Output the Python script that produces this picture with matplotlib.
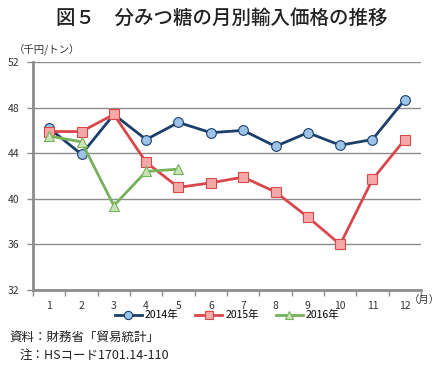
import matplotlib
matplotlib.use("Agg")
import matplotlib.pyplot as plt
import numpy as np

plt.rcParams['font.family'] = ['Noto Sans CJK JP', 'DejaVu Sans']

months = ["1", "2", "3", "4", "5", "6", "7", "8", "9", "10", "11", "12"]
y2014 = [46.2, 43.9, 47.4, 45.2, 46.7, 45.8, 46.0, 44.6, 45.8, 44.7, 45.2, 48.7]
y2015 = [45.9, 45.9, 47.4, 43.2, 41.0, 41.4, 41.9, 40.6, 38.4, 36.0, 41.7, 45.2]
y2016 = [45.5, 45.0, 39.4, 42.4, 42.6]
yticks = [32, 36, 40, 44, 48, 52]
series_labels = ["2014年", "2015年", "2016年"]

fig = plt.figure(figsize=(4.41, 3.68), dpi=100)
ax = fig.add_axes([33/441, 78/368, 388/441, 228/368])

x = np.arange(len(months))
ax.plot(x, y2014, color="#1B3F6B", lw=2, marker="o", ms=7,
        mfc="#9DC3E6", mec="#1B3F6B", mew=0.8, label=series_labels[0], zorder=3)
ax.plot(x, y2015, color="#D9474B", lw=2, marker="s", ms=7,
        mfc="#F4A9A8", mec="#D9474B", mew=0.8, label=series_labels[1], zorder=3)
ax.plot(x[:len(y2016)], y2016, color="#77B15A", lw=2, marker="^", ms=7.5,
        mfc="#C9E3B7", mec="#77B15A", mew=0.8, label=series_labels[2], zorder=3)

ax.set_xlim(-0.5, len(months) - 0.5)
ax.set_ylim(32, 52)
ax.set_yticks(yticks)
ax.set_yticklabels([str(v) for v in yticks], fontsize=7.5, color="#333333")
ax.yaxis.grid(True, color="#8C8C8C", lw=1)
ax.set_axisbelow(True)

ax.set_xticks(np.arange(-0.5, len(months), 1.0))
ax.set_xticklabels([])
ax.set_xticks(x, minor=True)
ax.set_xticklabels(months, minor=True, fontsize=7.5, color="#333333")
ax.tick_params(axis="x", which="major", length=4, color="#8C8C8C", width=1)
ax.tick_params(axis="x", which="minor", length=0, pad=8)
ax.tick_params(axis="y", length=4, color="#8C8C8C", width=1, pad=6)

for s in ["top", "right"]:
    ax.spines[s].set_visible(False)
for s in ["left", "bottom"]:
    ax.spines[s].set_color("#8C8C8C")
    ax.spines[s].set_linewidth(2)

fig.text(222, 368 - 18, "図５　分みつ糖の月別輸入価格の推移", transform=None,
         ha="center", va="center", fontsize=14, fontweight="medium", color="#222222")
fig.text(14, 368 - 50, "（千円/トン）", transform=None, ha="left", va="center",
         fontsize=7.5, color="#333333")
fig.text(440, 368 - 300, "（月）", transform=None, ha="right", va="center",
         fontsize=7.5, color="#333333")

ax.legend(loc="upper center", bbox_to_anchor=(0.5, -0.07), ncol=3, frameon=False,
          fontsize=7.5, handlelength=2.6, columnspacing=1.6, handletextpad=0.3,
          borderaxespad=0, markerscale=0.85)

fig.text(9, 368 - 337, "資料：財務省「貿易統計」", transform=None, ha="left", va="center",
         fontsize=9, color="#222222")
fig.text(20, 368 - 355, "注：HSコード1701.14-110", transform=None, ha="left", va="center",
         fontsize=9, color="#222222")

fig.savefig("out.png", dpi=100)
